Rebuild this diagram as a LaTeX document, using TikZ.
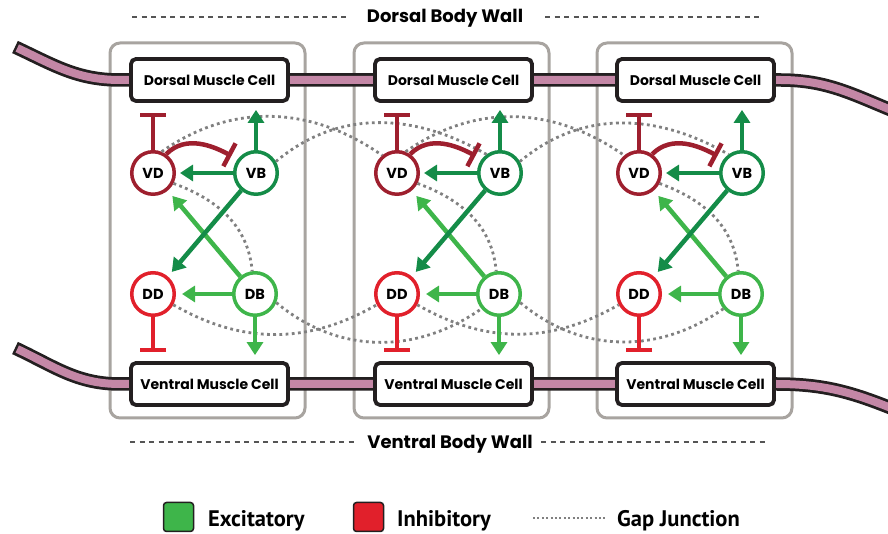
\documentclass[tikz,border=0pt]{standalone}
\usepackage{fontspec}
\setmainfont{Poppins}
\newfontfamily\legendfont{PT Sans}
\usetikzlibrary{arrows.meta,positioning,calc}
\definecolor{vdred}{RGB}{158,31,46}
\definecolor{ddred}{RGB}{225,32,43}
\definecolor{vbgreen}{RGB}{20,140,72}
\definecolor{dbgreen}{RGB}{62,181,74}
\definecolor{gapgray}{RGB}{128,128,128}
\definecolor{segmentgray}{RGB}{168,164,160}
\definecolor{tubepink}{RGB}{196,135,166}
\definecolor{dashgray}{RGB}{85,85,85}
\definecolor{inkblack}{RGB}{35,31,32}
\tikzset{
segment/.style = {draw=segmentgray, line width=3pt, rounded corners=10pt},
muscle/.style = {draw=inkblack, fill=white, rectangle, rounded corners=5pt, line width=3.8pt, minimum width=157pt, minimum height=42pt, inner sep=0pt, font=\bfseries\fontsize{14}{16}\selectfont},
neuron/.style = {draw, fill=white, circle, line width=3.5pt, minimum size=42.5pt, inner sep=0pt, font=\bfseries\fontsize{14.5}{16}\selectfont},
excite/.style = {-{Triangle[width=16pt,length=13pt]}, line width=4.5pt},
inhibit/.style = {-{Bar[width=26pt]}, line width=4.5pt},
gap/.style = {draw=gapgray, line width=2.8pt, dash pattern=on 2.8pt off 3.4pt},
tubeedge/.style = {line width=13.5pt, draw=inkblack},
tubefill/.style = {line width=8pt, draw=tubepink},
wall/.style = {draw=dashgray, line width=2.5pt, dash pattern=on 5pt off 4.5pt},
walltext/.style = {font=\bfseries\fontsize{18}{20}\selectfont, inner sep=0pt},
legendbox/.style = {draw=inkblack, line width=1.5pt, rounded corners=3pt, minimum width=30pt, minimum height=29pt},
legendtext/.style = {font=\legendfont\bfseries\fontsize{22.5}{24}\selectfont, inner sep=0pt}
}
\begin{document}
\begin{tikzpicture}[x=1pt, y=1pt, node distance=103pt]
    \useasboundingbox (0,0) rectangle (888,534);
    \foreach \dx in {0,244,487}
        \draw[segment] (110+\dx,116) rectangle (305+\dx,491);
    \draw[tubeedge] (15,487) to[out=-25,in=180] (120,454) -- (780,454) to[out=0,in=158] (896,422);
    \draw[tubefill, shorten <=2.5pt] (15,487) to[out=-25,in=180] (120,454) -- (780,454) to[out=0,in=158] (896,422);
    \draw[tubeedge] (15,186) to[out=-25,in=180] (120,150) -- (776,150) to[out=0,in=158] (896,124);
    \draw[tubefill, shorten <=2.5pt] (15,186) to[out=-25,in=180] (120,150) -- (776,150) to[out=0,in=158] (896,124);
    \foreach \dx [count=\i] in {0,244,486} {
        \node[muscle] (dm\i) at (209.5+\dx,454) {Dorsal Muscle Cell};
        \node[muscle] (vm\i) at (209.5+\dx,150) {Ventral Muscle Cell};
        \node[neuron, draw=vdred] (vd\i) at (153+\dx,361) {VD};
        \node[neuron, draw=vbgreen, right of=vd\i] (vb\i) {VB};
        \node[neuron, draw=ddred, below of=vd\i, node distance=121pt] (dd\i) {DD};
        \node[neuron, draw=dbgreen, right of=dd\i, node distance=102pt] (db\i) {DB};
    }
    \foreach \i/\j in {1/2,2/3} {
        \draw[gap] (vd\i.68) to[out=35,in=145] (vd\j.130);
        \draw[gap] (vb\i.30) to[out=40,in=150] (vb\j.126);
        \draw[gap] (dd\i.-28) to[out=-30,in=-150] (dd\j.-152);
        \draw[gap] (db\i.-22) to[out=-40,in=-145] (db\j.-140);
    }
    \foreach \i in {1,2,3} {
        \draw[gap] (vd\i.-27) to[out=-20,in=95] (db\i.97);
        \draw[inhibit, vdred, shorten >=10pt] (vd\i) -- (vd\i |- dm\i.south);
        \draw[excite, vbgreen, shorten >=7pt] (vb\i) -- (vb\i |- dm\i.south);
        \draw[inhibit, vdred, shorten >=7pt] (vd\i.55) to[out=45,in=152] (vb\i.143);
        \draw[excite, vbgreen, shorten >=4pt] (vb\i) -- (vd\i);
        \draw[excite, dbgreen, shorten >=7pt] (db\i) -- (vd\i);
        \draw[excite, vbgreen, shorten >=6pt] (vb\i) -- (dd\i);
        \draw[excite, dbgreen, shorten >=6pt] (db\i) -- (dd\i);
        \draw[inhibit, ddred, shorten >=9pt] (dd\i) -- (dd\i |- vm\i.north);
        \draw[excite, dbgreen, shorten >=6pt] (db\i) -- (db\i |- vm\i.north);
    }
    \node[walltext, anchor=base] (dorsalwall) at (445,511) {Dorsal Body Wall};
    \coordinate (dwl1) at (132,517);
    \coordinate (dwl2) at (350,517);
    \coordinate (dwr1) at (545,517);
    \coordinate (dwr2) at (763,517);
    \draw[wall] (dwl1) -- (dwl2);
    \draw[wall] (dwr1) -- (dwr2);
    \node[walltext, anchor=base] (ventralwall) at (450,85) {Ventral Body Wall};
    \coordinate (vwl1) at (130,92);
    \coordinate (vwl2) at (355,92);
    \coordinate (vwr1) at (541,92);
    \coordinate (vwr2) at (765,92);
    \draw[wall] (vwl1) -- (vwl2);
    \draw[wall] (vwr1) -- (vwr2);
    \node[legendbox, fill=dbgreen] (excbox) at (178.5,17) {};
    \node[legendtext, anchor=base west] (exc) at (208,7) {Excitatory};
    \node[legendbox, fill=ddred] (inhbox) at (368.5,17) {};
    \node[legendtext, anchor=base west] (inh) at (397,7) {Inhibitory};
    \coordinate (gapl) at (533,16);
    \coordinate (gapr) at (605,16);
    \draw[draw=gapgray, line width=2pt, dash pattern=on 2pt off 2.4pt] (gapl) -- (gapr);
    \node[legendtext, anchor=base west] (gapj) at (617,7) {Gap Junction};
\end{tikzpicture}
\end{document}
